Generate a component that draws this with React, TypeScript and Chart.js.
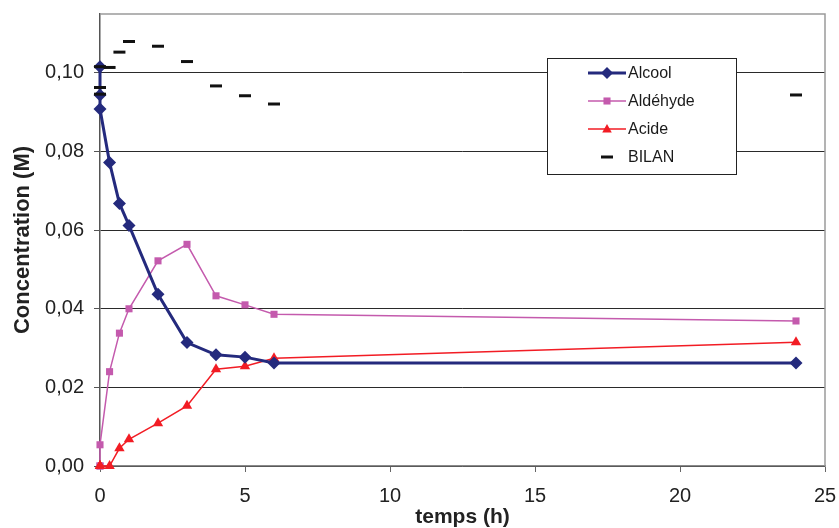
import React, { useEffect, useRef } from "react";
import { Chart, registerables } from "chart.js";

Chart.register(...registerables);

const time = [0, 0, 0, 0.33, 0.67, 1, 2, 3, 4, 5, 6, 24];
const alcool = [0.1016, 0.0944, 0.0908, 0.0772, 0.0668, 0.0612, 0.0437, 0.0314, 0.0283, 0.0277, 0.0262, 0.0262];
const aldehyde = [0, 0, 0.0054, 0.024, 0.0338, 0.04, 0.0522, 0.0564, 0.0433, 0.041, 0.0386, 0.0369];
const acide = [0, 0, 0, 0, 0.0045, 0.0068, 0.0109, 0.0153, 0.0246, 0.0254, 0.0274, 0.0315];
const bilan = [0.1016, 0.0946, 0.0963, 0.1014, 0.1053, 0.108, 0.1068, 0.1029, 0.0967, 0.0942, 0.0921, 0.0944];

const seriesNames = ["Alcool", "Aldéhyde", "Acide", "BILAN"];
const xTicks = [0, 5, 10, 15, 20, 25];
const yTicks = [0, 0.02, 0.04, 0.06, 0.08, 0.1];
const xTitle = "temps (h)";
const yTitle = "Concentration (M)";

const C_ALC = "#242a7d";
const C_ALD = "#c45aad";
const C_ACI = "#f21c24";
const C_BIL = "#111111";

const FONT = "'Liberation Sans', Arial, sans-serif";

const pts = (ys: number[]) => ys.map((y, i) => ({ x: time[i], y }));

const frame = {
  id: "frame",
  beforeDatasetsDraw(chart: any) {
    const { ctx, chartArea: a } = chart;
    ctx.save();
    ctx.strokeStyle = "#9a9a9a";
    ctx.lineWidth = 1.5;
    ctx.beginPath();
    ctx.moveTo(a.left, a.top);
    ctx.lineTo(a.right, a.top);
    ctx.lineTo(a.right, a.bottom);
    ctx.stroke();
    ctx.restore();
  },
};

function drawMarker(ctx: CanvasRenderingContext2D, style: string, x: number, y: number, r: number) {
  ctx.beginPath();
  if (style === "rectRot") {
    ctx.moveTo(x, y - r);
    ctx.lineTo(x + r, y);
    ctx.lineTo(x, y + r);
    ctx.lineTo(x - r, y);
    ctx.closePath();
    ctx.fill();
  } else if (style === "rect") {
    const s = r * Math.SQRT1_2;
    ctx.rect(x - s, y - s, 2 * s, 2 * s);
    ctx.fill();
  } else if (style === "triangle") {
    ctx.moveTo(x, y - r);
    ctx.lineTo(x + r * 0.95, y + r * 0.7);
    ctx.lineTo(x - r * 0.95, y + r * 0.7);
    ctx.closePath();
    ctx.fill();
  } else {
    ctx.moveTo(x - r, y);
    ctx.lineTo(x + r, y);
    ctx.stroke();
  }
}

const legendBox = {
  id: "legendBox",
  afterDraw(chart: any) {
    const { ctx } = chart;
    const x0 = 547, y0 = 58, x1 = 736, y1 = 174;
    ctx.save();
    ctx.fillStyle = "#fff";
    ctx.fillRect(x0, y0, x1 - x0, y1 - y0);
    ctx.strokeStyle = "#222";
    ctx.lineWidth = 1;
    ctx.strokeRect(x0 + 0.5, y0 + 0.5, x1 - x0, y1 - y0);
    const rows = [73, 101, 129, 157];
    const ds = chart.data.datasets;
    rows.forEach((ry, i) => {
      const d = ds[i];
      if (i < 3) {
        ctx.strokeStyle = d.borderColor;
        ctx.lineWidth = d.borderWidth;
        ctx.beginPath();
        ctx.moveTo(588, ry);
        ctx.lineTo(626, ry);
        ctx.stroke();
      }
      const style = i === 3 ? "line" : d.pointStyle;
      ctx.fillStyle = d.pointBackgroundColor;
      ctx.strokeStyle = d.pointBorderColor;
      ctx.lineWidth = 3;
      const r = i === 0 ? 6 : i === 3 ? 6 : 5;
      drawMarker(ctx, style, 607, ry, r);
      ctx.fillStyle = "#1a1a1a";
      ctx.font = `16px ${FONT}`;
      ctx.textBaseline = "middle";
      ctx.textAlign = "left";
      ctx.fillText(seriesNames[i], 628, ry + 1);
    });
    ctx.restore();
  },
};

export default function App() {
  const ref = useRef<HTMLCanvasElement>(null);
  useEffect(() => {
    document.body.style.margin = "0";
    const canvas = ref.current!;
    const chart = new Chart(canvas, {
      type: "scatter",
      data: {
        datasets: [
          {
            label: seriesNames[0],
            data: pts(alcool),
            showLine: true,
            borderColor: C_ALC,
            borderWidth: 3,
            pointStyle: "rectRot",
            pointRadius: 6.5,
            pointBackgroundColor: C_ALC,
            pointBorderColor: C_ALC,
            pointBorderWidth: 0,
            clip: false as any,
            order: 1,
          },
          {
            label: seriesNames[1],
            data: pts(aldehyde),
            showLine: true,
            borderColor: C_ALD,
            borderWidth: 1.5,
            pointStyle: "rect",
            pointRadius: 5,
            pointBackgroundColor: C_ALD,
            pointBorderColor: C_ALD,
            pointBorderWidth: 0,
            clip: false as any,
            order: 3,
          },
          {
            label: seriesNames[2],
            data: pts(acide),
            showLine: true,
            borderColor: C_ACI,
            borderWidth: 1.5,
            pointStyle: "triangle",
            pointRadius: 6,
            pointBackgroundColor: C_ACI,
            pointBorderColor: C_ACI,
            pointBorderWidth: 0,
            clip: false as any,
            order: 2,
          },
          {
            label: seriesNames[3],
            data: pts(bilan),
            showLine: false,
            borderColor: C_BIL,
            pointStyle: "line",
            pointRadius: 6,
            pointBorderWidth: 3,
            pointBackgroundColor: C_BIL,
            pointBorderColor: C_BIL,
            clip: false as any,
            order: 0,
          },
        ],
      },
      options: {
        animation: false,
        responsive: false,
        maintainAspectRatio: false,
        layout: { padding: { left: 0, top: 14, right: 14, bottom: 0 } },
        plugins: { legend: { display: false }, tooltip: { enabled: false } },
        scales: {
          x: {
            type: "linear",
            min: 0,
            max: 25,
            afterBuildTicks: (s: any) => {
              s.ticks = xTicks.map((v) => ({ value: v }));
            },
            afterFit: (s: any) => {
              s.height = 62;
              s.paddingLeft = 0;
              s.paddingRight = 0;
            },
            grid: { drawOnChartArea: false, drawTicks: true, tickLength: 6, color: "#666", lineWidth: 1 },
            border: { color: "#8a8a8a", width: 1.5 },
            ticks: {
              padding: 12,
              color: "#222",
              font: { family: FONT, size: 20 },
              maxRotation: 0,
              callback: (v: any) => String(v),
            },
            title: {
              display: true,
              text: xTitle,
              color: "#222",
              font: { family: FONT, size: 21, weight: "bold", lineHeight: 1.0 },
              padding: { top: 0, bottom: 0 },
            },
          },
          y: {
            type: "linear",
            min: 0,
            max: 0.115,
            afterBuildTicks: (s: any) => {
              s.ticks = yTicks.map((v) => ({ value: v }));
            },
            afterFit: (s: any) => {
              s.width = 100;
              s.paddingTop = 0;
              s.paddingBottom = 0;
            },
            grid: { color: "#2a2a2a", lineWidth: 1, drawTicks: true, tickLength: 6, tickColor: "#555" } as any,
            border: { color: "#555", width: 1.5 },
            ticks: {
              padding: 10,
              color: "#222",
              font: { family: FONT, size: 20 },
              callback: (v: any) => Number(v).toFixed(2).replace(".", ","),
            },
            title: {
              display: true,
              text: yTitle,
              color: "#222",
              font: { family: FONT, size: 22, weight: "bold", lineHeight: 1.2 },
              padding: { top: 10, bottom: 0 },
            },
          },
        },
      },
      plugins: [frame, legendBox],
    } as any);
    return () => chart.destroy();
  }, []);
  return (
    <div style={{ width: 839, height: 528 }}>
      <canvas ref={ref} width={839} height={528} style={{ display: "block" }} />
    </div>
  );
}
